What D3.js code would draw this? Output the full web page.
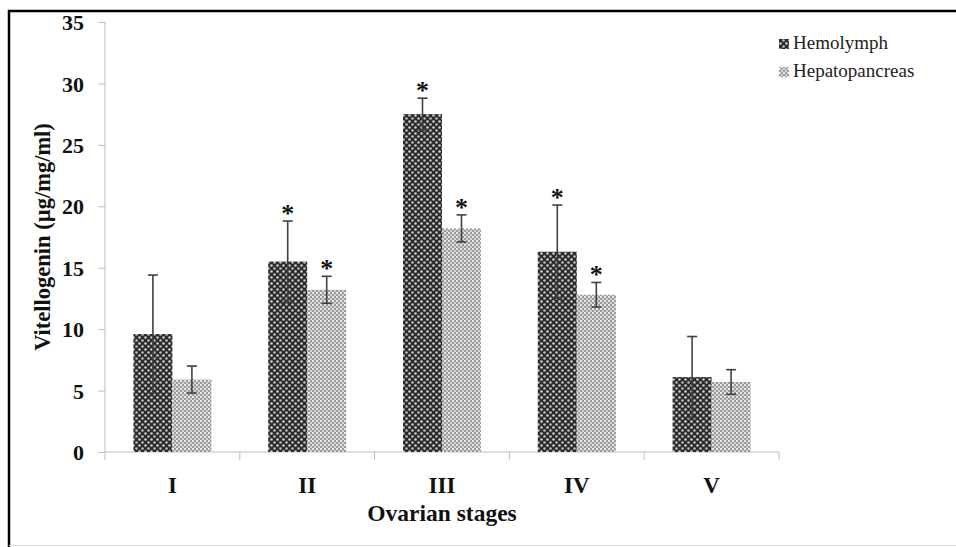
<!DOCTYPE html>
<html><head><meta charset="utf-8">
<script src="https://cdn.jsdelivr.net/npm/d3@7"></script>
<style>body{margin:0;background:#fff}svg{display:block}</style>
</head><body>
<svg id="c" width="956" height="547"></svg>
<script>
const categories = ["I","II","III","IV","V"];
const seriesNames = ["Hemolymph","Hepatopancreas"];
const hemolymph = [9.6, 15.5, 27.5, 16.3, 6.1];
const hepatopancreas = [5.9, 13.2, 18.2, 12.8, 5.7];
const hemolymphErr = [4.8, 3.3, 1.3, 3.8, 3.3];
const hepatopancreasErr = [1.1, 1.1, 1.1, 1.0, 1.0];
const hemolymphSig = [false, true, true, true, false];
const hepatopancreasSig = [false, true, true, true, false];
const yTicks = [0,5,10,15,20,25,30,35];

const svg = d3.select("#c");
const font = "'Liberation Serif','Times New Roman',serif";

// patterns
const defs = svg.append("defs");
const p1 = defs.append("pattern").attr("id","pHemo").attr("patternUnits","userSpaceOnUse").attr("width",6).attr("height",6);
p1.append("rect").attr("width",6).attr("height",6).attr("fill","#2b2b2b");
p1.append("circle").attr("cx",1.5).attr("cy",1.5).attr("r",1.3).attr("fill","#d0d0d0");
p1.append("circle").attr("cx",4.5).attr("cy",4.5).attr("r",1.3).attr("fill","#bdbdbd");
const p2 = defs.append("pattern").attr("id","pHepa").attr("patternUnits","userSpaceOnUse").attr("width",4).attr("height",4);
p2.append("rect").attr("width",4).attr("height",4).attr("fill","#999");
p2.append("circle").attr("cx",1).attr("cy",1).attr("r",1.1).attr("fill","#f2f2f2");
p2.append("circle").attr("cx",3).attr("cy",3).attr("r",1.1).attr("fill","#dcdcdc");
const fills = ["url(#pHemo)","url(#pHepa)"];

// frame
svg.append("line").attr("x1",8).attr("x2",956).attr("y1",11).attr("y2",11).attr("stroke","#000").attr("stroke-width",2.5);
svg.append("line").attr("x1",9).attr("x2",9).attr("y1",10).attr("y2",547).attr("stroke","#000").attr("stroke-width",2.5);
svg.append("line").attr("x1",9).attr("x2",956).attr("y1",545.5).attr("y2",545.5).attr("stroke","#ddd").attr("stroke-width",1);

const x0 = d3.scaleBand().domain(categories).range([105,779]).padding(0);
const inner = (x0.bandwidth()-78)/2;
const x1 = d3.scaleBand().domain(seriesNames).range([inner, inner+78]).padding(0);
const y = d3.scaleLinear().domain([0,35]).range([452,22]);

// axes
const yAxis = svg.append("g").attr("transform","translate(105,0)")
  .call(d3.axisLeft(y).tickValues(yTicks).tickSize(7).tickPadding(14).tickFormat(d3.format("d")));
yAxis.selectAll("path,line").attr("stroke","#bdbdbd");
yAxis.select(".domain").attr("d","M0,22V452");
yAxis.selectAll("text").attr("font-family",font).attr("font-size",22).attr("font-weight","bold").attr("fill","#111").attr("dy","0.35em");

const xAxis = svg.append("g").attr("transform","translate(0,452)")
  .call(d3.axisBottom(x0).tickSize(0).tickPadding(25));
xAxis.select(".domain").attr("d","M105,0H779").attr("stroke","#bdbdbd");
xAxis.selectAll("text").attr("font-family",font).attr("font-size",23).attr("font-weight","bold").attr("fill","#111");
// boundary ticks
const bounds = categories.map(c=>x0(c)).concat([x0(categories[4])+x0.bandwidth()]);
svg.append("g").selectAll("line").data(bounds).join("line")
  .attr("x1",d=>d).attr("x2",d=>d).attr("y1",452).attr("y2",460).attr("stroke","#bdbdbd");

// bars
const data = [
  {vals:hemolymph, err:hemolymphErr, sig:hemolymphSig, name:seriesNames[0], fill:fills[0]},
  {vals:hepatopancreas, err:hepatopancreasErr, sig:hepatopancreasSig, name:seriesNames[1], fill:fills[1]}
];
data.forEach(s=>{
  const g = svg.append("g");
  categories.forEach((c,i)=>{
    const bx = x0(c)+x1(s.name), bw = x1.bandwidth();
    g.append("rect").attr("x",bx).attr("y",y(s.vals[i])).attr("width",bw).attr("height",y(0)-y(s.vals[i])).attr("fill",s.fill);
  });
});
data.forEach(s=>{
  const g = svg.append("g").attr("stroke","#404040").attr("stroke-width",1.6);
  categories.forEach((c,i)=>{
    const cx = x0(c)+x1(s.name)+x1.bandwidth()/2;
    const hi = y(s.vals[i]+s.err[i]), lo = y(s.vals[i]-s.err[i]);
    g.append("line").attr("x1",cx).attr("x2",cx).attr("y1",hi).attr("y2",lo);
    g.append("line").attr("x1",cx-5).attr("x2",cx+5).attr("y1",hi).attr("y2",hi);
    g.append("line").attr("x1",cx-5).attr("x2",cx+5).attr("y1",lo).attr("y2",lo);
    if(s.sig[i]){
      svg.append("text").attr("x",cx).attr("y",hi+1).attr("text-anchor","middle")
        .attr("font-family",font).attr("font-size",26).attr("font-weight","bold").attr("fill","#111").text("*");
    }
  });
});

// axis titles
svg.append("text").attr("transform","translate(50,237) rotate(-90)").attr("text-anchor","middle")
  .attr("font-family",font).attr("font-size",22.5).attr("font-weight","bold").attr("fill","#111")
  .text("Vitellogenin (µg/mg/ml)");
svg.append("text").attr("x",442).attr("y",521).attr("text-anchor","middle")
  .attr("font-family",font).attr("font-size",23.5).attr("font-weight","bold").attr("fill","#111")
  .text("Ovarian stages");

// legend
const lg = svg.append("g").attr("transform","translate(779,0)");
seriesNames.forEach((n,i)=>{
  const yy = 49 + i*28;
  lg.append("rect").attr("x",0).attr("y",yy-10).attr("width",10).attr("height",10).attr("fill",fills[i]);
  lg.append("text").attr("x",14).attr("y",yy).attr("font-family",font).attr("font-size",19).attr("fill","#222").text(n);
});
</script>
</body></html>
